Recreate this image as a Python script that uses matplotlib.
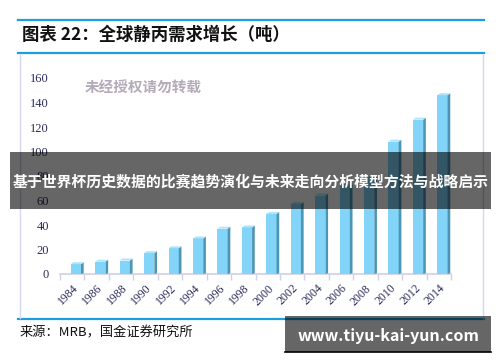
import matplotlib
matplotlib.use("Agg")
import matplotlib.pyplot as plt
from matplotlib.patches import Polygon, Rectangle
from matplotlib.lines import Line2D
import numpy as np

plt.rcParams['font.family'] = ['Noto Sans CJK SC', 'DejaVu Sans']

years = ['1984', '1986', '1988', '1990', '1992', '1994', '1996', '1998',
         '2000', '2002', '2004', '2006', '2008', '2010', '2012', '2014']
demand = [8, 10, 11, 17, 21, 29, 37, 38, 49, 57, 64, 72, 79, 108, 126, 146]
yticks = [0, 20, 40, 60, 80, 100, 120, 140, 160]

title = '图表 22：全球静丙需求增长（吨）'
source = '来源：MRB，国金证券研究所'
watermark = '未经授权请勿转载'
banner = '基于世界杯历史数据的比赛趋势演化与未来走向分析模型方法与战略启示'
site = 'www.tiyu-kai-yun.com'

W, H = 500, 362
fig = plt.figure(figsize=(5, 3.62), dpi=100)

def fx(px):
    return px / W

def fy(py):
    return 1 - py / H

# frame lines
blue = '#1a9fe0'
fig.add_artist(Line2D([fx(18), fx(484)], [fy(20), fy(20)], color=blue, lw=1.6))
fig.add_artist(Line2D([fx(18), fx(484)], [fy(53), fy(53)], color=blue, lw=1.6))
fig.add_artist(Line2D([fx(18), fx(484)], [fy(319), fy(319)], color=blue, lw=1.6))
fig.add_artist(Line2D([fx(20), fx(20)], [fy(55), fy(318)], color='#d6d6ec', lw=1.0))
fig.add_artist(Line2D([fx(483), fx(483)], [fy(55), fy(318)], color='#d6d6ec', lw=1.0))

fig.text(fx(22), fy(35), title, fontsize=12.5, fontweight='bold', style='italic',
         color='#111111', va='center', ha='left')
fig.text(fx(20), fy(333), source, fontsize=9.5, color='#111111', va='center', ha='left')

ax = fig.add_axes([fx(60), fy(274), fx(451) - fx(60), fy(78) - fy(274)])
x = np.arange(len(years))
vals = np.array(demand, dtype=float)
fw = 0.42
off = 0.15
d = 0.11
dy = 1.6
front = '#82d4f8'
side = '#4e95b4'
topc = '#aee4fb'
ax.bar(x + off, vals, width=fw, color=front, edgecolor='none', zorder=3)
for xi, v in zip(x, vals):
    r = xi + off + fw / 2
    l = xi + off - fw / 2
    ax.add_patch(Polygon([(r, 0), (r + d, dy * 0.4), (r + d, v + dy), (r, v)],
                         closed=True, facecolor=side, edgecolor='none', zorder=3))
    ax.add_patch(Polygon([(l, v), (l + d, v + dy), (r + d, v + dy), (r, v)],
                         closed=True, facecolor=topc, edgecolor='none', zorder=3))

ax.set_xlim(-0.5, len(years) - 0.5)
ax.set_ylim(0, 160)
ax.set_yticks(yticks)
ax.set_yticklabels([str(t) for t in yticks], family='Liberation Serif', fontsize=9,
                   color='#2b2b5c')
ax.set_xticks(x)
ax.set_xticklabels(years, rotation=45, ha='right', va='top', rotation_mode='anchor',
                   family='Liberation Serif', fontsize=8.5, color='#2b2b5c')
ax.set_xticks(np.arange(-0.5, len(years), 1), minor=True)
ax.tick_params(axis='x', which='major', length=0, pad=6)
ax.tick_params(axis='x', which='minor', length=4, color='#d0d0e6', width=1)
ax.tick_params(axis='y', length=0, pad=8)
for s in ['top', 'right', 'left']:
    ax.spines[s].set_visible(False)
ax.spines['bottom'].set_color('#d0d0e6')
ax.spines['bottom'].set_linewidth(1.2)
ax.patch.set_alpha(0)

fig.text(fx(85), fy(87), watermark, fontsize=10.5, fontweight='bold', color='#b3abb9',
         va='center', ha='left')

# overlay banner
fig.add_artist(Rectangle((fx(10), fy(209)), fx(491) - fx(10), fy(152) - fy(209),
                         transform=fig.transFigure, facecolor='black', alpha=0.6,
                         edgecolor='none', zorder=10))
fig.text(fx(250.5), fy(181), banner, fontsize=10.7, fontweight='bold', color='white',
         va='center', ha='center', zorder=11)

# bottom-right site box
fig.add_artist(Rectangle((fx(285), fy(352)), fx(491) - fx(285), fy(316) - fy(352),
                         transform=fig.transFigure, facecolor='black', alpha=0.6,
                         edgecolor='none', zorder=10))
fig.add_artist(Line2D([fx(285), fx(491)], [fy(351.5), fy(351.5)], color='black', lw=1.2, zorder=11))
fig.text(fx(388), fy(336), site, fontsize=11.5, fontweight='bold', color='white',
         va='center', ha='center', zorder=11)

fig.savefig('out.png', dpi=100)
